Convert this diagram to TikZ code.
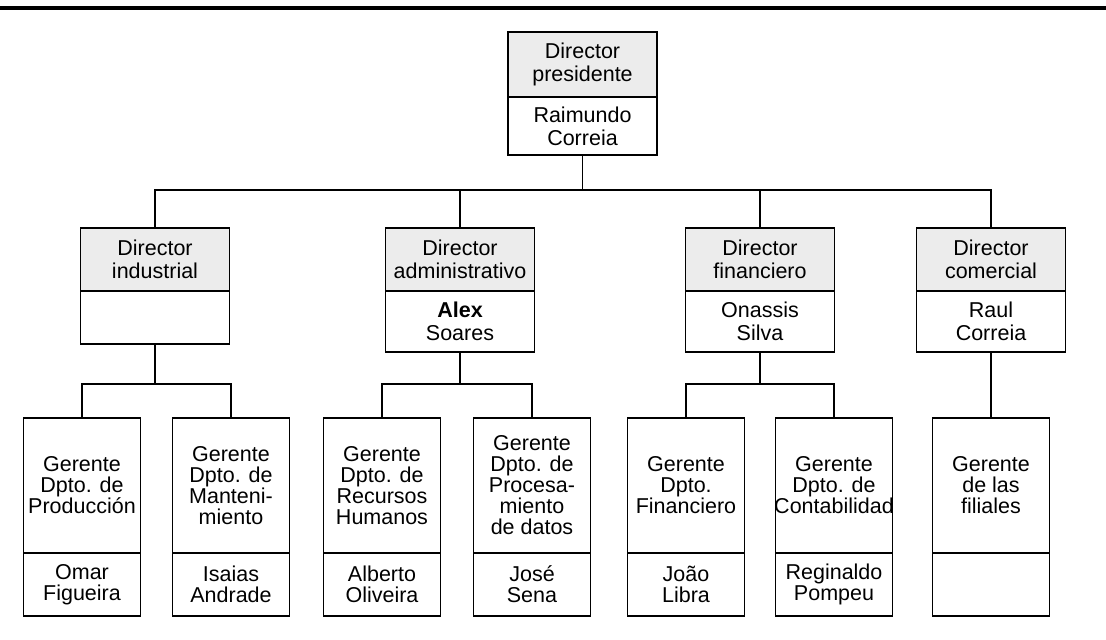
\documentclass[tikz,border=0pt]{standalone}
\usepackage{fontspec}
\setmainfont{Liberation Sans}
\begin{document}
\begin{tikzpicture}[x=1pt,y=-1pt,line width=1.7pt,
  base/.style={draw,align=center,inner sep=0pt,outer sep=0pt,font=\fontsize{21.5}{23}\selectfont},
  hdr/.style={base,fill=gray!15,minimum width=149pt,minimum height=63pt,anchor=north},
  body/.style={base,minimum width=149pt,minimum height=61pt,anchor=north},
  mgr/.style={base,minimum width=117pt,minimum height=135pt,anchor=north,font=\fontsize{21.5}{21}\selectfont},
  nm/.style={base,minimum width=117pt,minimum height=63pt,anchor=north,font=\fontsize{21.5}{21}\selectfont},
  rule/.style={line width=3.5pt}]
\useasboundingbox (0,0) rectangle (1106,640);
% top rule
\coordinate (rl) at (0,8);
\coordinate (rr) at (1106,8);
\draw[rule] (rl) -- (rr);
% president
\node[hdr,minimum height=65pt] (ph) at (582.5,32) {Director\\presidente};
\node[body,minimum height=58pt] (pb) at (ph.south) {Raimundo\\Correia};
% directors
\node[hdr] (ih) at (155,228) {Director\\industrial};
\node[body,minimum height=53pt] (ib) at (ih.south) {};
\node[hdr] (ah) at (460,228) {Director\\administrativo};
\node[body] (ab) at (ah.south) {\textbf{Alex}\\Soares};
\node[hdr] (fh) at (760,228) {Director\\financiero};
\node[body] (fb) at (fh.south) {Onassis\\Silva};
\node[hdr] (ch) at (991,228) {Director\\comercial};
\node[body] (cb) at (ch.south) {Raul\\Correia};
% managers
\node[mgr] (g1) at (82,418) {Gerente\\Dpto. de\\Producción};
\node[nm] (n1) at (g1.south) {Omar\\Figueira};
\node[mgr] (g2) at (231,418) {Gerente\\Dpto. de\\Manteni-\\miento};
\node[nm] (n2) at (g2.south) {Isaias\\Andrade};
\node[mgr] (g3) at (382,418) {Gerente\\Dpto. de\\Recursos\\Humanos};
\node[nm] (n3) at (g3.south) {Alberto\\Oliveira};
\node[mgr] (g4) at (532,418) {Gerente\\Dpto. de\\Procesa-\\miento\\de datos};
\node[nm] (n4) at (g4.south) {José\\Sena};
\node[mgr] (g5) at (686,418) {Gerente\\Dpto.\\Financiero};
\node[nm] (n5) at (g5.south) {João\\Libra};
\node[mgr] (g6) at (834,418) {Gerente\\Dpto. de\\\makebox[112pt][c]{Contabilidad}};
\node[nm] (n6) at (g6.south) {Reginaldo\\Pompeu};
\node[mgr] (g7) at (991,418) {Gerente\\de las\\filiales};
\node[nm] (n7) at (g7.south) {};
% connectors level 1
\coordinate (t) at (582.5,190);
\draw (pb.south) -- (t);
\draw (ih.north) |- (t) -| (ch.north);
\draw (ah.north) -- (ah.north |- t);
\draw (fh.north) -- (fh.north |- t);
% connectors level 2
\coordinate (j1) at (155,384);
\draw (ib.south) -- (j1);
\draw (g1.north) |- (j1) -| (g2.north);
\coordinate (j2) at (460,384);
\draw (ab.south) -- (j2);
\draw (g3.north) |- (j2) -| (g4.north);
\coordinate (j3) at (760,384);
\draw (fb.south) -- (j3);
\draw (g5.north) |- (j3) -| (g6.north);
\draw (cb.south) -- (g7.north);
\end{tikzpicture}
\end{document}
